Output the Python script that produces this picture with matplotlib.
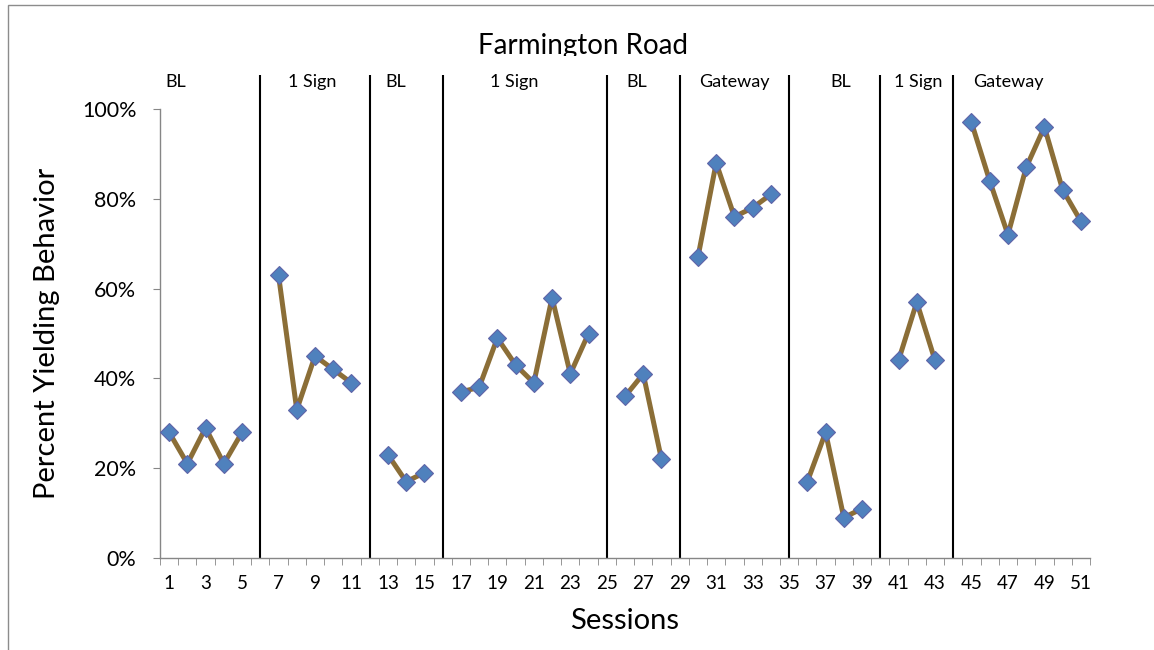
import numpy as np
import matplotlib
matplotlib.use("Agg")
import matplotlib.pyplot as plt
from matplotlib.patches import Rectangle
from matplotlib.ticker import FuncFormatter

plt.rcParams['font.family'] = ['Lato', 'DejaVu Sans']

nan = np.nan
sessions = list(range(1, 52))
yielding = [28, 21, 29, 21, 28, nan,
            63, 33, 45, 42, 39, nan,
            23, 17, 19, nan,
            37, 38, 49, 43, 39, 58, 41, 50, nan,
            36, 41, 22, nan,
            67, 88, 76, 78, 81, nan,
            17, 28, 9, 11, nan,
            44, 57, 44, nan,
            97, 84, 72, 87, 96, 82, 75]
phase_breaks = [6, 12, 16, 25, 29, 35, 40, 44]
phase_labels = ["BL", "1 Sign", "BL", "1 Sign", "BL", "Gateway", "BL", "1 Sign", "Gateway"]
label_x = [1.35, 8.85, 13.45, 19.9, 26.65, 32.0, 37.85, 42.1, 47.0]

fig = plt.figure(figsize=(11.54, 6.5), dpi=100)
W, H = 1154, 650
ax = fig.add_axes([160 / W, 1 - 558 / H, 930 / W, 449 / H])

y = np.array(yielding) / 100.0
ax.plot(sessions, y, color='#8B6E37', lw=3.6, marker='D', ms=9.2,
        mfc='#4F81BD', mec='#5F64A8', mew=0.8, zorder=3)

ax.vlines(phase_breaks, 0, 1.075, colors='black', lw=1.5, clip_on=False, zorder=2)
for lx, lab in zip(label_x, phase_labels):
    ax.text(lx, 1.06, lab, ha='center', va='center', fontsize=13)

ax.set_xlim(0.5, 51.5)
ax.set_ylim(0, 1)
ax.set_yticks(np.arange(0, 1.01, 0.2))
ax.yaxis.set_major_formatter(FuncFormatter(lambda v, p: f"{v*100:.0f}%"))
ax.set_xticks(range(1, 52, 2))
ax.set_xticks(np.arange(0.5, 52, 1), minor=True)
ax.tick_params(axis='x', which='major', length=0, labelsize=13.5, pad=12)
ax.tick_params(axis='x', which='minor', length=5, color='#868686', direction='out')
ax.tick_params(axis='y', length=5, color='#868686', labelsize=15.5, pad=12)

for s in ['top', 'right']:
    ax.spines[s].set_visible(False)
for s in ['left', 'bottom']:
    ax.spines[s].set_color('#868686')
    ax.spines[s].set_linewidth(1.0)

ax.set_ylabel('Percent Yielding Behavior', fontsize=21, labelpad=16)
ax.set_xlabel('Sessions', fontsize=21, labelpad=12)

fig.text(583 / W, 1 - 46 / H, 'Farmington Road', ha='center', va='center', fontsize=20)
# the phase-label box covers the bottom of the title
fig.patches.append(Rectangle((430 / W, 1 - 70 / H), 300 / W, 14 / H,
                             transform=fig.transFigure, facecolor='white',
                             edgecolor='none', zorder=5))
fig.patches.append(Rectangle((8 / W, -0.1), 1.2, 1 - 5 / H + 0.1,
                             transform=fig.transFigure, facecolor='none',
                             edgecolor='#8c8c8c', lw=1.0, zorder=6))

fig.savefig('out.png', dpi=100)
